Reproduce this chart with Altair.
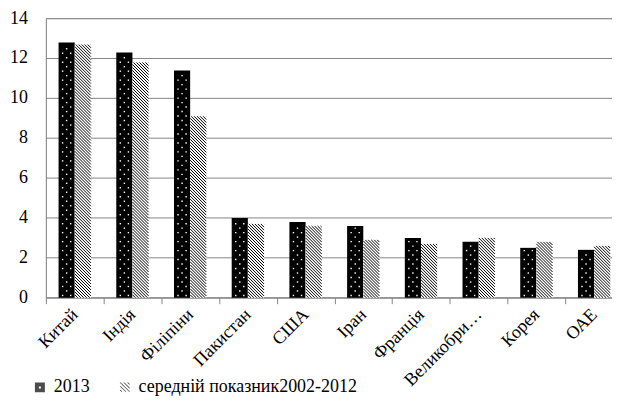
import altair as alt
import pandas as pd

# ---------------- data ----------------
categories = ["Китай", "Індія", "Філіпіни", "Пакистан", "США", "Іран",
              "Франція", "Великобри…", "Корея", "ОАЕ"]
values_2013 = [12.8, 12.3, 11.4, 4.0, 3.8, 3.6, 3.0, 2.8, 2.5, 2.4]
values_avg = [12.7, 11.8, 9.1, 3.7, 3.6, 2.9, 2.7, 3.0, 2.8, 2.6]
series_names = ["2013", "середній показник2002-2012"]
y_ticks = [0, 2, 4, 6, 8, 10, 12, 14]

# ---------------- layout / style ----------------
FONT = "Liberation Serif"
GRID = "#868686"
W, H = 579, 280
N = len(categories)
B = W / N                 # band width in px
BAR = 0.28                # bar width (band units)
L1 = 0.22                 # left edge of 2013 bar (band units)
L2 = L1 + BAR             # left edge of hatched bar
PPU = H / 14              # px per y unit
D = BAR * B / PPU         # vertical drop of a 45deg hatch line across bar
P = 3 / PPU               # hatch spacing (y units)
PD = 4.5 / PPU            # dot row spacing (y units)

df = pd.DataFrame({"cat": categories, "idx": list(range(N)),
                   "v2013": values_2013, "vavg": values_avg})
ticks_df = pd.DataFrame({"t": y_ticks})

xs = alt.Scale(domain=[0, N], nice=False, zero=False)
ys = alt.Scale(domain=[0, 14], nice=False)

label_arr = "[" + ",".join("'" + c + "'" for c in categories) + "]"
x_axis = alt.Axis(values=[i + 0.5 for i in range(N)],
                  labelExpr=f"{label_arr}[floor(datum.value)]",
                  tickOffset=-B / 2, labelOffset=B / 2,
                  labelAngle=-45, labelAlign="right", labelBaseline="middle",
                  labelPadding=8, tickSize=6, tickColor=GRID, domainColor=GRID,
                  labelOverlap=False, grid=False, title=None, labelFont=FONT,
                  labelFontSize=18, labelColor="black")
y_axis = alt.Axis(values=y_ticks, grid=False, domainColor=GRID, ticks=False,
                  labels=False, title=None)

base = alt.Chart(df)

grid = alt.Chart(ticks_df).mark_rule(color=GRID, strokeWidth=1).encode(
    y=alt.Y("t:Q", scale=ys, axis=y_axis),
)
ylabels = alt.Chart(ticks_df).mark_text(
    font=FONT, fontSize=18, align="right", baseline="middle", color="black"
).encode(
    y=alt.Y("t:Q", scale=ys),
    x=alt.value(-18),
    text="t:Q",
)

bars1 = base.transform_calculate(
    bx=f"datum.idx + {L1}", bx2=f"datum.idx + {L1 + BAR}"
).mark_rect(color="black").encode(
    x=alt.X("bx:Q", scale=xs, axis=x_axis),
    x2="bx2:Q",
    y=alt.Y("v2013:Q", scale=ys),
    y2=alt.datum(0),
)

bars2 = base.transform_calculate(
    bx=f"datum.idx + {L2}", bx2=f"datum.idx + {L2 + BAR}"
).mark_rect(color="white").encode(
    x=alt.X("bx:Q", scale=xs), x2="bx2:Q",
    y=alt.Y("vavg:Q", scale=ys), y2=alt.datum(0),
)

hatch = base.transform_calculate(
    ks=f"sequence(0, ceil((datum.vavg + {D}) / {P}) + 1)"
).transform_flatten(["ks"]).transform_calculate(
    c=f"datum.ks * {P}"
).transform_calculate(
    s0=f"max(0, (datum.c - datum.vavg) / {D})",
    s1=f"min(1, datum.c / {D})",
).transform_filter("datum.s1 > datum.s0").transform_calculate(
    hx=f"datum.idx + {L2} + datum.s0 * {BAR}",
    hx2=f"datum.idx + {L2} + datum.s1 * {BAR}",
    hy=f"datum.c - datum.s0 * {D}",
    hy2=f"datum.c - datum.s1 * {D}",
).mark_rule(color="black", strokeWidth=1).encode(
    x=alt.X("hx:Q", scale=xs), x2="hx2:Q",
    y=alt.Y("hy:Q", scale=ys), y2="hy2:Q",
)

dots = base.transform_calculate(
    rs=f"sequence(0, floor(datum.v2013 / {PD}))"
).transform_flatten(["rs"]).transform_calculate(
    cols="datum.rs % 2 == 0 ? [0.25, 0.75] : [0.5]"
).transform_flatten(["cols"]).transform_calculate(
    dx=f"datum.idx + {L1} + datum.cols * {BAR}",
    dy=f"(datum.rs + 0.5) * {PD}",
).transform_filter(f"datum.dy < datum.v2013 - {0.6 / PPU}").mark_square(
    color="white", size=2, opacity=1
).encode(
    x=alt.X("dx:Q", scale=xs),
    y=alt.Y("dy:Q", scale=ys),
)

# legend symbols
sym_dot = "M-1,-1H1V1H-1Z M-0.2,-0.2V0.2H0.2V-0.2Z"
parts = []
w = 0.22
for c in [-1.5, -0.75, 0.0, 0.75, 1.5]:
    x0 = max(-1.0, -1.0 - c)
    x1 = min(1.0, 1.0 - c)
    if x1 - x0 < 0.2:
        continue
    y0, y1 = x0 + c, x1 + c
    parts.append(f"M{x0:.2f},{y0:.2f}L{x0 + w:.2f},{y0:.2f}L{x1:.2f},{y1 - w:.2f}L{x1:.2f},{y1:.2f}Z")
sym_hatch = " ".join(parts)

leg_df = pd.DataFrame({"series": series_names})
legend = alt.Legend(title=None, orient="none", legendX=-15, legendY=361,
                    direction="horizontal", symbolSize=100, symbolStrokeWidth=0,
                    labelFont=FONT, labelFontSize=18, labelColor="black",
                    labelOffset=5, columnPadding=26, labelLimit=400)
legend_layer = alt.Chart(leg_df).mark_point(filled=True, clip=True).encode(
    x=alt.value(-300), y=alt.value(-300),
    color=alt.Color("series:N", sort=series_names,
                    scale=alt.Scale(domain=series_names, range=["black", "black"]),
                    legend=legend),
    shape=alt.Shape("series:N", sort=series_names,
                    scale=alt.Scale(domain=series_names, range=[sym_dot, sym_hatch]),
                    legend=legend),
)

chart = alt.layer(grid, ylabels, bars1, bars2, hatch, dots, legend_layer).properties(
    width=W, height=H,
    padding={"left": 2, "top": 1, "right": -12, "bottom": 0},
).configure_view(stroke=None).configure(font=FONT)

chart.save("out.html", embed_options={"renderer": "svg", "actions": False})
